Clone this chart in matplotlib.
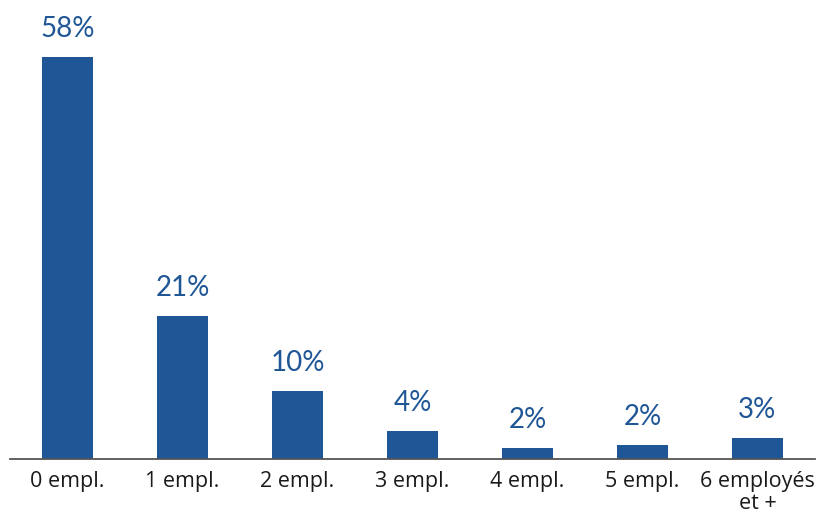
import matplotlib
matplotlib.use('Agg')
import matplotlib.pyplot as plt

categories = ['0 empl.', '1 empl.', '2 empl.', '3 empl.', '4 empl.', '5 empl.', '6 employés\net +']
values = [58, 20.6, 9.8, 4.0, 1.6, 2.0, 3.0]
labels = ['58%', '21%', '10%', '4%', '2%', '2%', '3%']

blue = '#1f5696'

plt.rcParams['font.family'] = ['Lato', 'DejaVu Sans']

fig = plt.figure(figsize=(8.17, 5.16), dpi=100)
ax = fig.add_axes([0.0122, 0.1105, 0.9853, 0.833])

x = range(len(categories))
bars = ax.bar(x, values, width=0.45, color=blue)

for rect, lab in zip(bars, labels):
    ax.annotate(lab, (rect.get_x() + rect.get_width() / 2, rect.get_height()),
                xytext=(0, 11), textcoords='offset points',
                ha='center', va='bottom', fontsize=20, color=blue)

ax.set_xlim(-0.5, 6.5)
ax.set_ylim(0, 62)
ax.set_xticks(list(x))
ax.set_xticklabels(categories, fontsize=15.5, color='#1a1a1a', linespacing=1.05,
                   family=['Open Sans', 'DejaVu Sans'])
ax.tick_params(axis='x', length=0, pad=9)
ax.set_yticks([])

for side in ['top', 'right', 'left']:
    ax.spines[side].set_visible(False)
ax.spines['bottom'].set_color('#555555')
ax.spines['bottom'].set_linewidth(1.3)

fig.savefig('out.png', dpi=100)
